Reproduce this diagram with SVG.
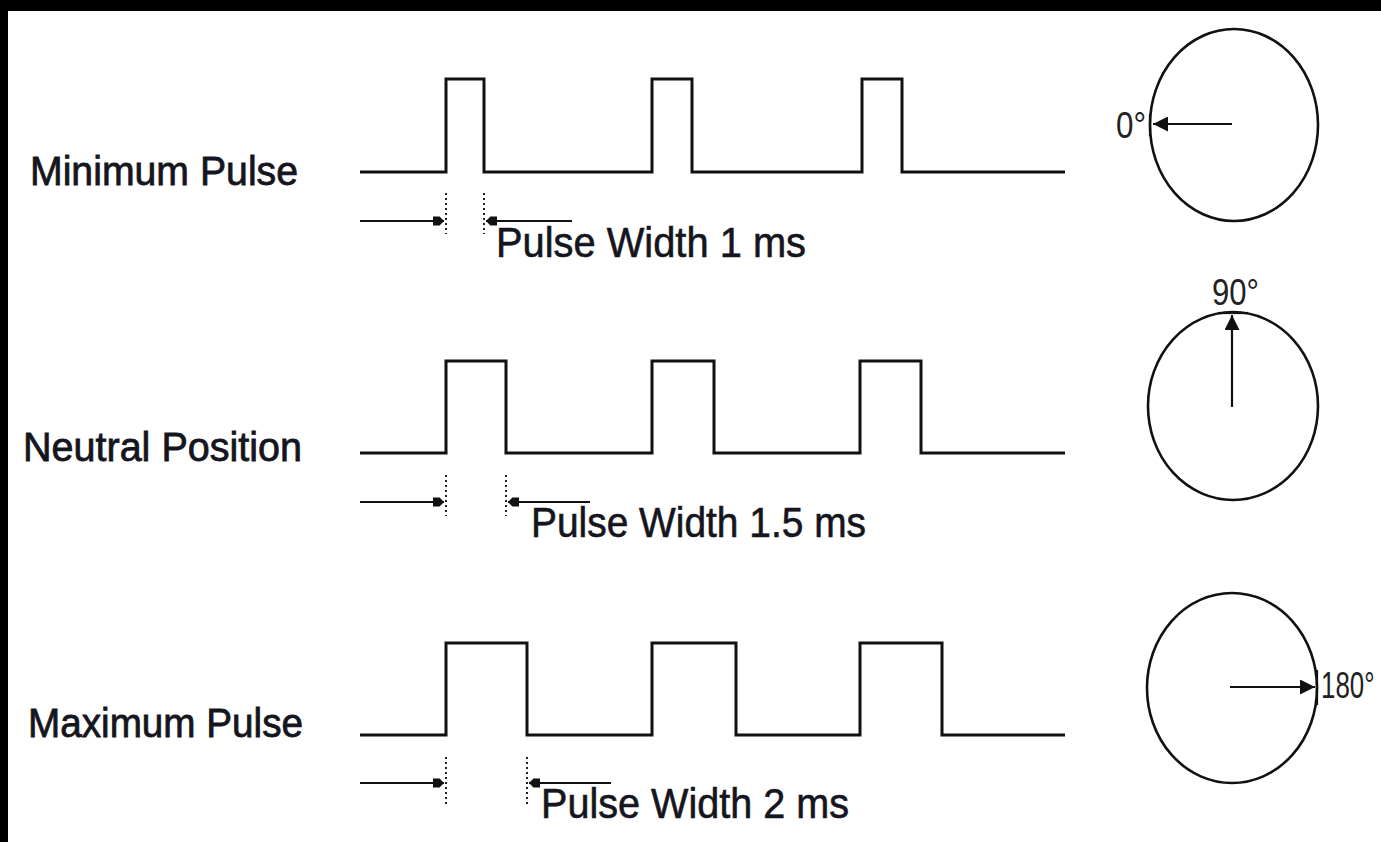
<svg xmlns="http://www.w3.org/2000/svg" width="1381" height="842" viewBox="0 0 1381 842">
<style>
.wave{fill:none;stroke:#111;stroke-width:3;stroke-linejoin:miter}
.dial{fill:none;stroke:#111;stroke-width:2.6}
.arr{fill:none;stroke:#111;stroke-width:2.2}
.dot{fill:none;stroke:#222;stroke-width:2;stroke-dasharray:2 3}
.lbl{font-family:"Liberation Sans",Arial,sans-serif;font-size:41px;fill:#151520;stroke:#151520;stroke-width:0.8}
.pw{font-family:"Liberation Sans",Arial,sans-serif;font-size:42px;fill:#151520;stroke:#151520;stroke-width:0.6}
.deg{font-family:"Liberation Sans",Arial,sans-serif;font-size:37px;fill:#222}
</style>
<defs>
<marker id="pwh" viewBox="0 0 10 10" refX="10" refY="5" markerWidth="15" markerHeight="11" markerUnits="userSpaceOnUse" orient="auto"><path d="M0,1 L6,1 L10,5 L6,9 L0,9 z" fill="#111"/></marker>
<marker id="dh" viewBox="0 0 10 10" refX="10" refY="5" markerWidth="18" markerHeight="15" markerUnits="userSpaceOnUse" orient="auto"><path d="M0,0 L10,5 L0,10 z" fill="#111"/></marker>
</defs>
<rect x="0" y="0" width="1381" height="842" fill="#fff"/>
<rect x="0" y="0" width="1381" height="11" fill="#000"/>
<rect x="0" y="0" width="8" height="842" fill="#000"/>

<g id="row-minimum">
<text class="lbl" x="30" y="185" textLength="268" lengthAdjust="spacingAndGlyphs">Minimum Pulse</text>
<path class="wave" d="M360,172 H446 V79 H484 V172 H652 V79 H692 V172 H862 V79 H902 V172 H1065"/>
<text class="pw" x="496" y="257" textLength="310" lengthAdjust="spacingAndGlyphs">Pulse Width 1 ms</text>
</g>

<g id="row-neutral">
<text class="lbl" x="23" y="461" textLength="279" lengthAdjust="spacingAndGlyphs">Neutral Position</text>
<path class="wave" d="M360,453 H446 V361 H506 V453 H652 V361 H714 V453 H860 V361 H921 V453 H1065"/>
<text class="pw" x="531" y="537" textLength="335" lengthAdjust="spacingAndGlyphs">Pulse Width 1.5 ms</text>
</g>

<g id="row-maximum">
<text class="lbl" x="28" y="737" textLength="275" lengthAdjust="spacingAndGlyphs">Maximum Pulse</text>
<path class="wave" d="M360,735 H446 V643 H527 V735 H652 V643 H736 V735 H860 V643 H942 V735 H1065"/>
<text class="pw" x="541" y="818" textLength="308" lengthAdjust="spacingAndGlyphs">Pulse Width 2 ms</text>
</g>

<g id="dial-0">
<ellipse class="dial" cx="1234" cy="125" rx="84" ry="96"/>
<text class="deg" x="1116" y="138" textLength="30" lengthAdjust="spacingAndGlyphs">0°</text>
</g>
<g id="dial-90">
<ellipse class="dial" cx="1233" cy="406" rx="85" ry="94"/>
<text class="deg" x="1212" y="305" textLength="47" lengthAdjust="spacingAndGlyphs">90°</text>
</g>
<g id="dial-180">
<ellipse class="dial" cx="1232" cy="688" rx="85" ry="95"/>
<text class="deg" transform="translate(1321,698) scale(0.7,1)" x="0" y="0">180°</text>
</g>

<g id="connectors">
<path class="dot" d="M446,193 V234"/>
<path class="dot" d="M484,193 V234"/>
<path class="arr" d="M360,221 H444" marker-end="url(#pwh)"/>
<path class="arr" d="M572,221 H486" marker-end="url(#pwh)"/>
<path class="dot" d="M446,475 V516"/>
<path class="dot" d="M506,475 V516"/>
<path class="arr" d="M360,502 H444" marker-end="url(#pwh)"/>
<path class="arr" d="M590,502 H508" marker-end="url(#pwh)"/>
<path class="dot" d="M446,757 V806"/>
<path class="dot" d="M527,757 V806"/>
<path class="arr" d="M360,783 H444" marker-end="url(#pwh)"/>
<path class="arr" d="M611,783 H529" marker-end="url(#pwh)"/>
<path class="arr" d="M1232,124 H1153" marker-end="url(#dh)"/>
<path class="arr" d="M1150,114 V136"/>
<path class="arr" d="M1232,407 V315" marker-end="url(#dh)"/>
<path class="arr" d="M1218,313 H1248"/>
<path class="arr" d="M1230,687 H1315" marker-end="url(#dh)"/>
<path class="arr" d="M1317,670 V705"/>
</g>
</svg>
